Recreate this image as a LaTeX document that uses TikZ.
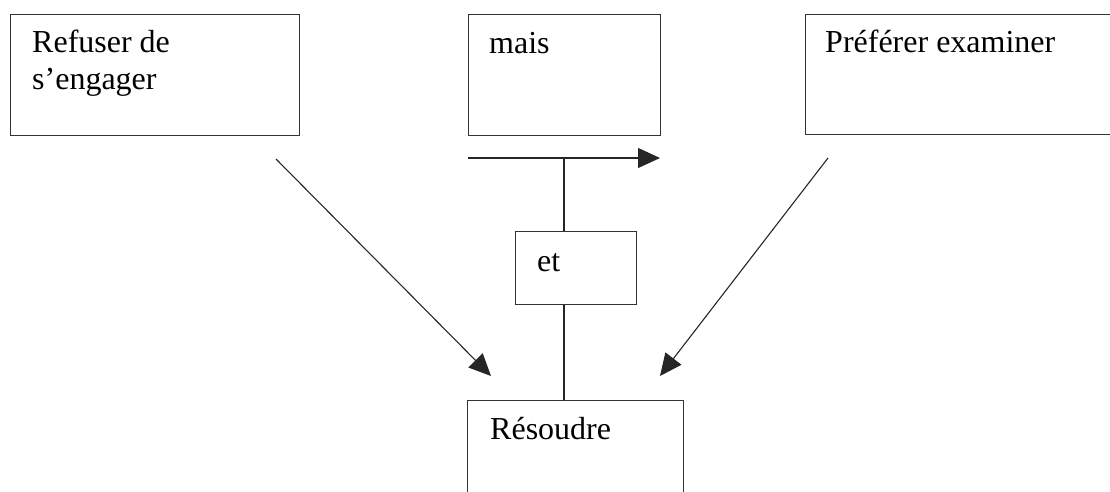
\documentclass[tikz,border=0pt]{standalone}
\usepackage{fontspec}
\setmainfont{Liberation Serif}
\usepackage{tikz}
\usetikzlibrary{arrows.meta}
\tikzstyle{box}=[rectangle,draw=black!80,line width=1.1pt,anchor=north west,inner sep=0pt]
\tikzstyle{boxtext}=[anchor=base west,inner sep=0pt,align=left,font=\fontsize{32pt}{37pt}\selectfont]
\tikzstyle{link}=[draw=black!85,line width=1.1pt]
\tikzstyle{arrow}=[link,-{Triangle[length=22pt,width=20pt]}]

\begin{document}
\begin{tikzpicture}[x=1pt,y=-1pt]
        \useasboundingbox (0,0) rectangle (1110,492);
        \clip (0,0) rectangle (1110,492);

        \node at (10,14)   [box,minimum width=289pt,minimum height=121pt] (refuser)  {};
        \node at (468,14)  [box,minimum width=192pt,minimum height=121pt] (mais)     {};
        \node at (805,14)  [box,minimum width=340pt,minimum height=120pt] (preferer) {};
        \node at (515,231) [box,minimum width=121pt,minimum height=73pt]  (et)       {};
        \node at (467,400) [box,minimum width=216pt,minimum height=130pt] (resoudre) {};

        % two lines: the base is that of the last line
        \node at (32,90)   [boxtext] (t-refuser)  {Refuser de\\s’engager};
        \node at (489,54)  [boxtext] (t-mais)     {mais};
        \node at (825,53)  [boxtext] (t-preferer) {Préférer examiner};
        \node at (537,271) [boxtext] (t-et)       {et};
        \node at (490,439) [boxtext] (t-resoudre) {Résoudre};

        \coordinate (start)  at (468,158);
        \coordinate (end)    at (660,158);
        \coordinate (branch) at (564,158);
        \coordinate (left-from)  at (276,159);
        \coordinate (left-to)    at (491,376);
        \coordinate (right-from) at (828,158);
        \coordinate (right-to)   at (660,376);

        \draw [arrow] (start) -- (end);
        \draw [link] (branch) -- (branch |- et.north);
        \draw [link] (branch |- et.south) -- (branch |- resoudre.north);
        \draw [arrow] (left-from) -- (left-to);
        \draw [arrow] (right-from) -- (right-to);
\end{tikzpicture}
\end{document}
